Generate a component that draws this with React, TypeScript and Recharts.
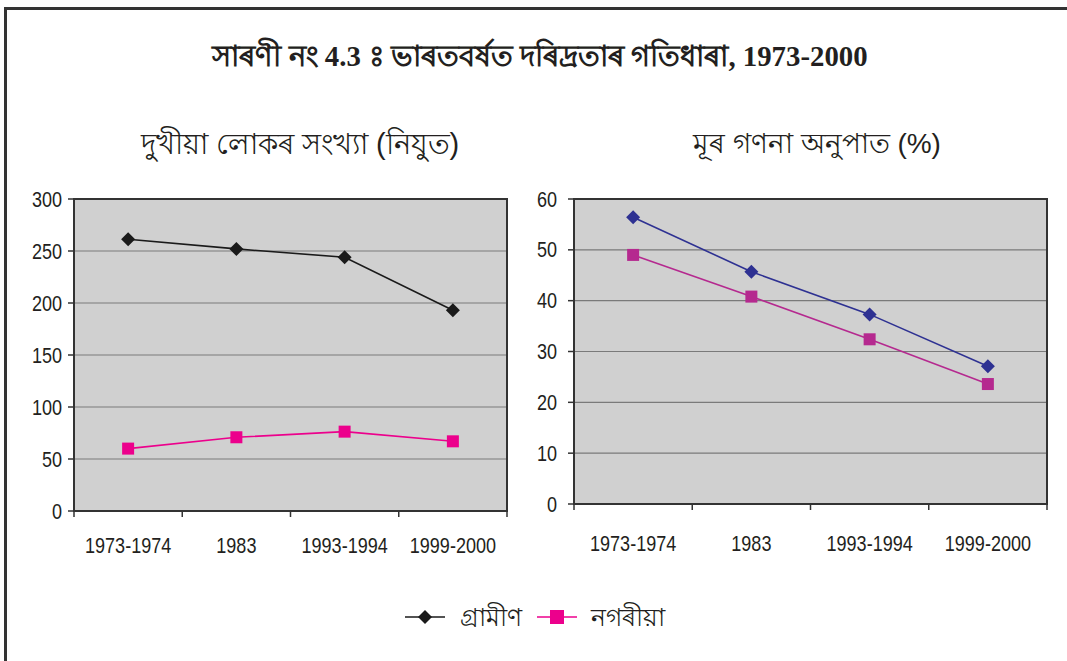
import React from 'react';
import { LineChart, Line, XAxis, YAxis, CartesianGrid, ReferenceArea } from 'recharts';

const periods = ['1973-1974', '1983', '1993-1994', '1999-2000'];
const ruralCount = [261.3, 252.0, 244.0, 193.1];
const urbanCount = [60.0, 70.9, 76.3, 67.0];
const ruralRatio = [56.4, 45.7, 37.3, 27.1];
const urbanRatio = [49.0, 40.8, 32.4, 23.6];
const countTicks = [0, 50, 100, 150, 200, 250, 300];
const ratioTicks = [0, 10, 20, 30, 40, 50, 60];

const FONT = '"Liberation Sans", Arial, sans-serif';
const xTicks = [0, 0.5, 1, 1.5, 2, 2.5, 3, 3.5, 4];

const countData = periods.map((p, i) => ({ x: i + 0.5, name: p, rural: ruralCount[i], urban: urbanCount[i] }));
const ratioData = periods.map((p, i) => ({ x: i + 0.5, name: p, rural: ruralRatio[i], urban: urbanRatio[i] }));

// the original uses a narrow sans; squeeze Liberation Sans horizontally
const Narrow = ({ x, y, anchor, children }: any) => (
  <text transform={`translate(${x},${y}) scale(0.82,1)`} textAnchor={anchor} dominantBaseline="central"
    fontSize={22} fill="#231f20" fontFamily={FONT}>
    {children}
  </text>
);

const Diamond = (size: number, color: string) => (props: any) => {
  const { cx, cy } = props;
  if (cx == null || cy == null) return null;
  const h = size / 2;
  return <polygon key={`d${cx}`} points={`${cx},${cy - h} ${cx + h},${cy} ${cx},${cy + h} ${cx - h},${cy}`} fill={color} />;
};

const Square = (size: number, color: string) => (props: any) => {
  const { cx, cy } = props;
  if (cx == null || cy == null) return null;
  return <rect key={`s${cx}`} x={cx - size / 2} y={cy - size / 2} width={size} height={size} fill={color} />;
};

// tick lines at band edges, labels at band centres
const BandTick = (labelDy: number) => (props: any) => {
  const { x, y, payload } = props;
  const v = payload.value;
  if (Number.isInteger(v)) {
    return <line x1={x} x2={x} y1={y} y2={y + 6} stroke="#333" strokeWidth={1.5} />;
  }
  return <Narrow x={x} y={y + labelDy} anchor="middle">{periods[Math.floor(v)]}</Narrow>;
};

const ValueTick = (props: any) => {
  const { x, y, payload } = props;
  return <Narrow x={x} y={y} anchor="end">{payload.value}</Narrow>;
};

function Panel(props: {
  data: any[]; ticks: number[]; max: number; ruralColor: string; urbanColor: string;
  width: number; margin: any; yWidth: number; tickMargin: number; markSize: number; labelDy: number;
}) {
  const { data, ticks, max, ruralColor, urbanColor, width, margin, yWidth, tickMargin, markSize, labelDy } = props;
  return (
    <LineChart width={width} height={390} data={data} margin={margin}>
      <CartesianGrid vertical={false} fill="#d0d0d0" stroke="#7a7a7a" strokeWidth={1.2} horizontalValues={ticks} />
      <XAxis
        type="number" dataKey="x" domain={[0, 4]} ticks={xTicks} interval={0}
        axisLine={false} tickLine={false} tickSize={0} tickMargin={0} height={50}
        tick={BandTick(labelDy)}
      />
      <YAxis
        type="number" domain={[0, max]} ticks={ticks} interval={0} width={yWidth}
        axisLine={false} tickSize={6} tickMargin={tickMargin}
        tickLine={{ stroke: '#333', strokeWidth: 1.5 }}
        tick={ValueTick}
      />
      <ReferenceArea x1={0} x2={4} y1={0} y2={max} fill="none" stroke="#333" strokeWidth={2} ifOverflow="visible" />
      <Line dataKey="rural" stroke={ruralColor} strokeWidth={1.6} isAnimationActive={false} dot={Diamond(markSize + 2, ruralColor)} />
      <Line dataKey="urban" stroke={urbanColor} strokeWidth={1.6} isAnimationActive={false} dot={Square(markSize, urbanColor)} />
    </LineChart>
  );
}

export default function App() {
  return (
    <div style={{ position: 'absolute', left: 0, top: 0, width: 1067, height: 661, background: '#fff', overflow: 'hidden', fontFamily: FONT }}>
      {/* frame */}
      <div style={{ position: 'absolute', left: 4, top: 7, width: 1070, height: 700, borderLeft: '3px solid #333', borderTop: '3px solid #333' }} />

      <div style={{ position: 'absolute', left: 0, top: 35, width: 1080, textAlign: 'center', fontFamily: '"Liberation Serif", "DejaVu Serif", serif', fontWeight: 'bold', fontSize: 28.8, color: '#231f20' }}>
        সাৰণী নং 4.3{'\u00A0'}ঃ ভাৰতবৰ্ষত দৰিদ্ৰতাৰ গতিধাৰা, 1973-2000
      </div>
      <div style={{ position: 'absolute', left: 100, top: 121, width: 400, textAlign: 'center', fontSize: 29, color: '#231f20' }}>
        দুখীয়া লোকৰ সংখ্যা (নিযুত)
      </div>
      <div style={{ position: 'absolute', left: 617, top: 122, width: 400, textAlign: 'center', fontSize: 28, color: '#231f20' }}>
        মূৰ গণনা অনুপাত (%)
      </div>

      <div style={{ position: 'absolute', left: 0, top: 180 }}>
        <Panel data={countData} ticks={countTicks} max={300} ruralColor="#1a1a1a" urbanColor="#ec008c"
          width={520} margin={{ top: 19, right: 13, bottom: 9, left: 14 }} yWidth={60} tickMargin={6} markSize={12} labelDy={34} />
      </div>
      <div style={{ position: 'absolute', left: 520, top: 180 }}>
        <Panel data={ratioData} ticks={ratioTicks} max={60} ruralColor="#2e3192" urbanColor="#b5298f"
          width={547} margin={{ top: 19, right: 20, bottom: 16, left: 0 }} yWidth={54} tickMargin={11} markSize={12} labelDy={39} />
      </div>

      {/* legend */}
      <svg style={{ position: 'absolute', left: 0, top: 595 }} width={1067} height={45}>
        <line x1={405} x2={445} y1={22} y2={22} stroke="#1a1a1a" strokeWidth={1.6} />
        <polygon points="425,15 432,22 425,29 418,22" fill="#1a1a1a" />
        <text x={460} y={22} dominantBaseline="central" fontSize={25} fill="#231f20">গ্ৰামীণ</text>
        <line x1={537} x2={577} y1={22} y2={22} stroke="#ec008c" strokeWidth={1.6} />
        <rect x={550} y={15} width={14} height={14} fill="#ec008c" />
        <text x={591} y={22} dominantBaseline="central" fontSize={25} fill="#231f20">নগৰীয়া</text>
      </svg>
    </div>
  );
}
